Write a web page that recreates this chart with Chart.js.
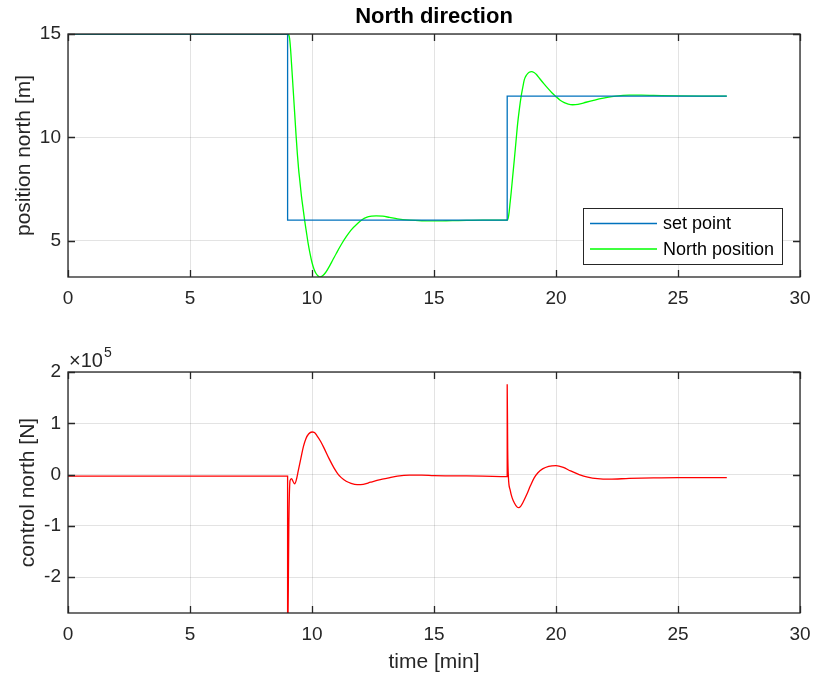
<!DOCTYPE html>
<html>
<head>
<meta charset="utf-8">
<script src="https://cdn.jsdelivr.net/npm/chart.js@4"></script>
<style>
html,body{margin:0;padding:0;background:#ffffff;}
#wrap{position:relative;width:815px;height:681px;background:#ffffff;}
#c1{position:absolute;left:0;top:0;}
#c2{position:absolute;left:0;top:340px;}
</style>
</head>
<body>
<div id="wrap">
<canvas id="c1" width="815" height="340"></canvas>
<canvas id="c2" width="815" height="341"></canvas>
</div>
<script>
// ---------- data (time in minutes) ----------
const xTicks = [0, 5, 10, 15, 20, 25, 30];
const posYTicks = [5, 10, 15];
const ctrlYTicks = [-2, -1, 0, 1, 2];

const setTime  = [0, 9, 9, 18, 18, 27];
const setPoint = [15, 15, 6, 6, 12, 12];

const posTime = [0, 9.0, 9.04, 9.08, 9.12, 9.16, 9.2, 9.25, 9.3, 9.35, 9.4, 9.45, 9.5, 9.57, 9.63, 9.7, 9.77, 9.84, 9.92, 10.0,
  10.08, 10.16, 10.24, 10.31, 10.4, 10.5, 10.59, 10.7, 10.85, 11.0, 11.2, 11.41, 11.6, 11.88, 12.05, 12.23, 12.45, 12.63, 12.9, 13.18,
  13.5, 14.0, 14.5, 15.0, 15.5, 16.0, 17.0, 18.0, 18.04, 18.08, 18.12, 18.16, 18.22, 18.29, 18.36, 18.43, 18.5, 18.57, 18.64, 18.7,
  18.8, 18.9, 19.0, 19.1, 19.2, 19.32, 19.5, 19.66, 19.83, 20.0, 20.17, 20.34, 20.5, 20.68, 20.9, 21.23, 21.5, 21.77, 22.1, 22.45,
  23.0, 23.5, 24.0, 25.0, 26.0, 27.0];
const posNorth = [15, 15, 14.97, 14.8, 14.3, 13.58, 12.85, 11.92, 10.98, 10.05, 9.2, 8.48, 7.92, 7.14, 6.6, 5.98, 5.43, 4.89, 4.38, 3.95,
  3.64, 3.43, 3.31, 3.25, 3.28, 3.38, 3.52, 3.74, 4.07, 4.4, 4.82, 5.21, 5.52, 5.85, 6.02, 6.13, 6.19, 6.21, 6.19, 6.13,
  6.06, 6.0, 5.97, 5.96, 5.97, 5.98, 6.0, 6.0, 6.1, 6.4, 6.85, 7.3, 8.05, 8.91, 9.8, 10.69, 11.38, 11.97, 12.43, 12.78,
  13.03, 13.15, 13.18, 13.14, 13.04, 12.86, 12.6, 12.38, 12.16, 11.97, 11.8, 11.68, 11.61, 11.58, 11.6, 11.7, 11.78, 11.86, 11.94, 12.0,
  12.04, 12.04, 12.03, 12.01, 12.0, 12.0];

// control force, in units of 1e5 N
const ctrlTime = [0, 9.0, 9.0, 9.05, 9.1, 9.16, 9.22, 9.29, 9.36, 9.44, 9.55, 9.65, 9.75, 9.86, 10.0, 10.1, 10.2, 10.35, 10.5, 10.7,
  10.9, 11.05, 11.2, 11.4, 11.6, 11.85, 12.1, 12.4, 12.8, 13.1, 13.5, 14.0, 14.5, 15.0, 16.0, 17.0, 18.0, 18.0, 18.02, 18.05,
  18.12, 18.2, 18.3, 18.4, 18.47, 18.55, 18.65, 18.8, 18.95, 19.1, 19.25, 19.45, 19.7, 20.0, 20.3, 20.6, 20.95, 21.3, 21.7, 22.2,
  23.0, 24.0, 25.0, 26.0, 27.0];
const ctrlNorth = [-0.03, -0.03, -3.6, -1.0, -0.12, -0.08, -0.13, -0.18, -0.1, 0.08, 0.33, 0.55, 0.7, 0.79, 0.83, 0.82, 0.76, 0.65, 0.51, 0.31,
  0.13, 0.02, -0.06, -0.13, -0.17, -0.195, -0.19, -0.15, -0.1, -0.07, -0.03, -0.01, -0.01, -0.02, -0.025, -0.03, -0.04, 1.76, 0.5, -0.05,
  -0.3, -0.45, -0.56, -0.63, -0.645, -0.62, -0.54, -0.39, -0.22, -0.07, 0.03, 0.11, 0.16, 0.175, 0.14, 0.07, 0.0, -0.05, -0.08, -0.09,
  -0.075, -0.065, -0.06, -0.06, -0.06];

const zip = (xs, ys) => xs.map((x, i) => ({x: x, y: ys[i]}));

// ---------- styling ----------
const FONT = '"Liberation Sans", Arial, Helvetica, sans-serif';
const AX = '#262626';
const GRID = 'rgba(38,38,38,0.13)';

// MATLAB-like frame: box, inward ticks, extra texts
const framePlugin = {
  id: 'matlabFrame',
  afterDraw(chart, args, opts) {
    const ctx = chart.ctx;
    const a = chart.chartArea;
    const xs = chart.scales.x, ys = chart.scales.y;
    ctx.save();
    ctx.strokeStyle = AX;
    ctx.lineWidth = 1.3;
    ctx.strokeRect(a.left, a.top, a.right - a.left, a.bottom - a.top);
    const tl = 7;
    ctx.beginPath();
    xs.ticks.forEach(t => {
      const px = Math.round(xs.getPixelForValue(t.value)) + 0.5;
      ctx.moveTo(px, a.bottom); ctx.lineTo(px, a.bottom - tl);
      ctx.moveTo(px, a.top); ctx.lineTo(px, a.top + tl);
    });
    ys.ticks.forEach(t => {
      const py = Math.round(ys.getPixelForValue(t.value)) + 0.5;
      ctx.moveTo(a.left, py); ctx.lineTo(a.left + tl, py);
      ctx.moveTo(a.right, py); ctx.lineTo(a.right - tl, py);
    });
    ctx.stroke();

    if (opts.title) {
      ctx.fillStyle = '#000';
      ctx.font = 'bold 22px ' + FONT;
      ctx.textAlign = 'center';
      ctx.textBaseline = 'middle';
      ctx.fillText(opts.title, (a.left + a.right) / 2, 17);
    }
    if (opts.exponent) {
      ctx.fillStyle = AX;
      ctx.textAlign = 'left';
      ctx.textBaseline = 'alphabetic';
      ctx.font = '20px ' + FONT;
      ctx.fillText('\u00d710', a.left + 1, a.top - 5);
      const w = ctx.measureText('\u00d710').width;
      ctx.font = '14px ' + FONT;
      ctx.fillText(opts.exponent, a.left + 1 + w + 1, a.top - 15);
    }
    if (opts.legend) {
      const L = opts.legend;
      ctx.fillStyle = '#fff';
      ctx.fillRect(L.x, L.y, L.w, L.h);
      ctx.strokeStyle = AX;
      ctx.lineWidth = 1;
      ctx.strokeRect(L.x + 0.5, L.y + 0.5, L.w, L.h);
      ctx.font = '18px ' + FONT;
      ctx.textAlign = 'left';
      ctx.textBaseline = 'middle';
      chart.data.datasets.forEach((ds, i) => {
        const cy = L.y + 15.5 + i * 25.5;
        ctx.strokeStyle = ds.borderColor;
        ctx.lineWidth = 1.3;
        ctx.beginPath();
        ctx.moveTo(L.x + 7, cy); ctx.lineTo(L.x + 74, cy);
        ctx.stroke();
        ctx.fillStyle = '#000';
        ctx.fillText(ds.label, L.x + 80, cy + 1);
      });
    }
    ctx.restore();
  }
};

function makeOptions(cfg) {
  return {
    responsive: false,
    animation: false,
    events: [],
    layout: {autoPadding: false, padding: {left: 0, right: 15, top: cfg.padTop, bottom: 0}},
    plugins: {
      legend: {display: false},
      tooltip: {enabled: false},
      title: {display: false},
      matlabFrame: cfg.frame
    },
    scales: {
      x: {
        type: 'linear',
        min: 0, max: 30,
        afterBuildTicks: s => { s.ticks = xTicks.map(v => ({value: v})); },
        afterFit: s => { s.height = cfg.xHeight; s.paddingLeft = 0; s.paddingRight = 0; },
        ticks: {
          font: {family: FONT, size: 19}, color: AX, padding: 10,
          maxRotation: 0, autoSkip: false,
          callback: v => String(v)
        },
        grid: {color: GRID, lineWidth: 1, drawTicks: false},
        border: {display: false},
        title: cfg.xTitle ? {
          display: true, text: cfg.xTitle, color: AX,
          font: {family: FONT, size: 21}, padding: {top: 0, bottom: 6}
        } : {display: false}
      },
      y: {
        type: 'linear',
        min: cfg.yMin, max: cfg.yMax,
        afterBuildTicks: s => { s.ticks = cfg.yTicks.map(v => ({value: v})); },
        afterFit: s => { s.width = 68; s.paddingTop = 0; s.paddingBottom = 0; },
        ticks: {
          font: {family: FONT, size: 19}, color: AX, padding: 7,
          callback: v => String(v)
        },
        grid: {color: GRID, lineWidth: 1, drawTicks: false},
        border: {display: false},
        title: {
          display: true, text: cfg.yTitle, color: AX,
          font: {family: FONT, size: 21}, padding: {top: cfg.yTitlePad, bottom: 0}
        }
      }
    }
  };
}

new Chart(document.getElementById('c1'), {
  type: 'line',
  data: {
    datasets: [
      {label: 'set point', data: zip(setTime, setPoint), borderColor: '#0072BD', borderWidth: 1.3,
       pointRadius: 0, tension: 0, fill: false, clip: 0},
      {label: 'North position', data: zip(posTime, posNorth), borderColor: '#00FF00', borderWidth: 1.3,
       pointRadius: 0, cubicInterpolationMode: 'monotone', fill: false, clip: 0}
    ]
  },
  options: makeOptions({
    padTop: 34, xHeight: 63, yMin: 3.25, yMax: 15, yTicks: posYTicks,
    yTitle: 'position north [m]', yTitlePad: 12, xTitle: null,
    frame: {title: 'North direction', legend: {x: 583, y: 208, w: 199, h: 56}}
  }),
  plugins: [framePlugin]
});

new Chart(document.getElementById('c2'), {
  type: 'line',
  data: {
    datasets: [
      {label: 'control north', data: zip(ctrlTime, ctrlNorth), borderColor: '#FF0000', borderWidth: 1.3,
       pointRadius: 0, cubicInterpolationMode: 'monotone', fill: false, clip: 0}
    ]
  },
  options: makeOptions({
    padTop: 32, xHeight: 68, yMin: -2.7, yMax: 2, yTicks: ctrlYTicks,
    yTitle: 'control north [N]', yTitlePad: 16, xTitle: 'time [min]',
    frame: {exponent: '5'}
  }),
  plugins: [framePlugin]
});
</script>
</body>
</html>
